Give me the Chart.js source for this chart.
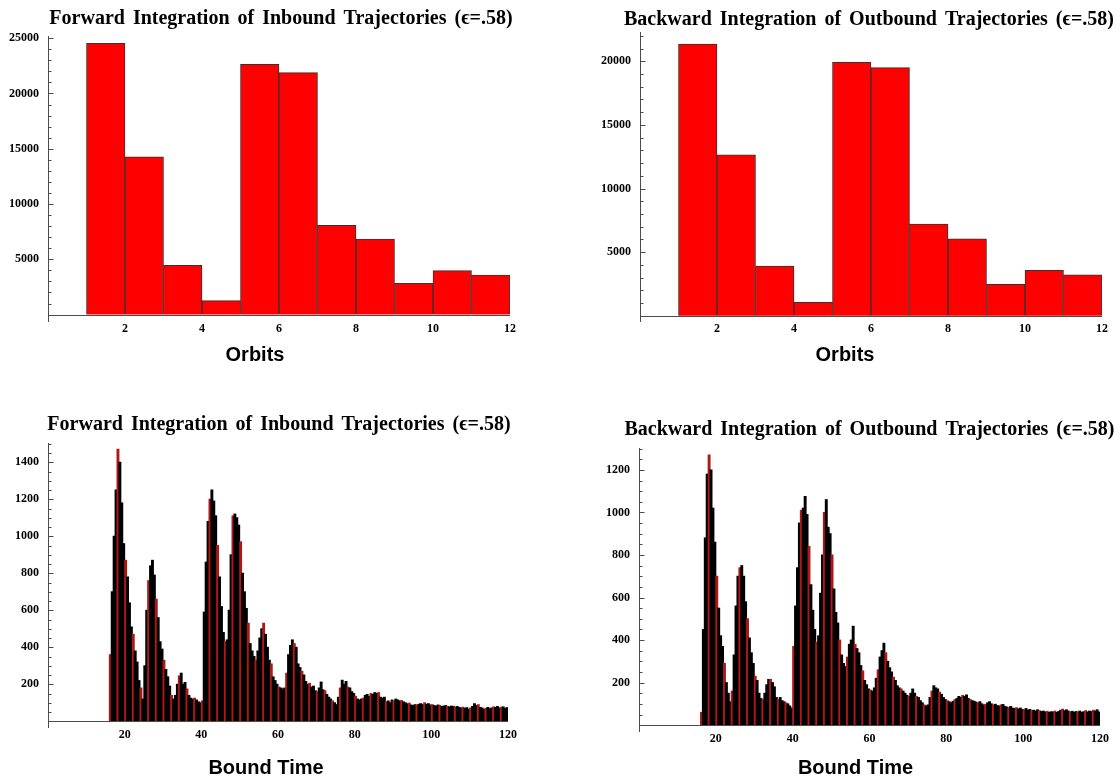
<!DOCTYPE html>
<html>
<head>
<meta charset="utf-8">
<title>Orbits and bound time histograms</title>
<script src="https://cdn.jsdelivr.net/npm/chart.js@4.4.1/dist/chart.umd.min.js"></script>
<style>
  html, body { margin: 0; padding: 0; background: #fff; }
  #page { position: relative; width: 1120px; height: 779px; overflow: hidden; }
  canvas { position: absolute; }
</style>
</head>
<body>
<div id="page">
  <canvas id="orbitsFwd" width="560" height="380" style="left:0;top:0"></canvas>
  <canvas id="orbitsBwd" width="620" height="380" style="left:540px;top:0"></canvas>
  <canvas id="boundFwd" width="560" height="399" style="left:0;top:380px"></canvas>
  <canvas id="boundBwd" width="620" height="399" style="left:540px;top:380px"></canvas>
</div>
<script>
// orbit histograms: bins [1,2), [2,3) ... [11,12)
const orbitBins = [1, 2, 3, 4, 5, 6, 7, 8, 9, 10, 11];
const orbitCountsFwd = [24540, 14280, 4460, 1260, 22640, 21880, 8080, 6840, 2830, 3970, 3580];
const orbitCountsBwd = [21350, 12650, 3900, 1060, 19920, 19500, 7200, 6040, 2480, 3580, 3210];
const orbitXTicks = [2, 4, 6, 8, 10, 12];
const orbitYTicksFwd = [5000, 10000, 15000, 20000, 25000];
const orbitYTicksBwd = [5000, 10000, 15000, 20000];

// bound time histograms: bins of 0.5 starting at 16
const boundTimeStart = 16;
const boundTimeBinWidth = 0.5;
const boundTimeFwd = [
  360, 700, 1000, 1250, 1470, 1400, 1180, 960, 870, 780, 640, 510, 470, 380, 320, 220, 180, 120, // 16.0
  300, 600, 760, 840, 870, 790, 660, 560, 430, 390, 330, 280, 240, 190, 140, 120, // 25.0
  140, 200, 245, 260, 200, 210, 175, 140, 125, 120, 125, 115, 105, 100, // 33.0
  110, 590, 860, 1080, 1200, 1250, 1190, 1110, 950, 780, 620, 480, 430, 440, // 40.0
  600, 900, 1110, 1120, 1100, 1060, 970, 800, 700, 610, // 47.0
  530, 420, 380, 350, 330, 380, 450, 500, 530, 470, // 52.0
  400, 330, 310, 240, 220, 200, 185, 180, 175, 180, // 57.0
  260, 360, 410, 440, 420, 400, 310, 290, // 62.0
  270, 250, 215, 200, 205, 185, 190, 165, 160, 180, // 66.0
  212, 170, 165, 145, 130, 120, 110, 100, 90, 130, // 71.0
  180, 222, 200, 215, 185, 180, 160, 150, 135, 120, // 76.0
  115, 120, 125, 140, 145, 135, 150, 145, 155, 150, // 81.0
  155, 130, 125, 130, 105, 110, 100, 115, 110, 120, // 86.0
  115, 110, 112, 105, 100, 95, 98, 88, 85, 90, // 91.0
  88, 92, 95, 90, 100, 92, 95, 88, 90, 85, // 96.0
  82, 88, 85, 80, 82, 85, 80, 78, 82, 80, // 101.0
  76, 80, 75, 72, 76, 70, 74, 65, 72, 80, // 106.0
  95, 85, 90, 75, 72, 65, 70, 75, 68, 72, // 111.0
  78, 75, 80, 72, 76, 78, 70, 74 // 116.0
];
const boundTimeBwd = [
  60, 450, 880, 1180, 1270, 1200, 1020, 860, 700, 550, 420, 370, 290, 200, 150, 110, // 16.0
  160, 330, 560, 700, 740, 750, 700, 580, 500, 410, 340, 290, 230, 210, 150, 125, // 24.0
  120, 150, 190, 215, 215, 200, 180, 130, 120, 130, 115, 110, 105, 100, 90, 80, // 32.0
  370, 560, 740, 950, 1010, 1020, 1075, 990, 840, 660, 540, 450, 390, // 40.0
  420, 620, 800, 1000, 1060, 930, 900, 800, 640, 530, // 46.5
  480, 400, 330, 290, 275, 320, 380, 400, 465, 380, // 51.5
  360, 340, 280, 255, 210, 190, 170, 165, 160, 175, // 56.5
  220, 260, 320, 350, 385, 340, 300, 270, // 61.5
  250, 225, 210, 185, 175, 170, 160, 150, 140, 135, // 65.5
  150, 170, 150, 135, 130, 115, 105, 95, 90, 95, // 70.5
  130, 160, 185, 175, 170, 155, 145, 130, 120, 115, // 75.5
  110, 105, 112, 120, 125, 135, 130, 140, 135, 142, // 80.5
  125, 120, 115, 112, 108, 105, 110, 100, 95, 98, // 85.5
  105, 110, 100, 95, 98, 92, 90, 95, 97, 88, // 90.5
  85, 82, 88, 80, 78, 82, 76, 80, 74, 72, // 95.5
  78, 70, 74, 68, 70, 66, 72, 68, 64, 66, // 100.5
  62, 65, 60, 63, 62, 66, 60, 64, 70, 75, // 105.5
  68, 72, 66, 62, 65, 60, 64, 62, 66, 60, // 110.5
  63, 68, 62, 66, 64, 70, 66, 72, 62 // 115.5
];
const boundXTicks = [20, 40, 60, 80, 100, 120];
const boundYTicksFwd = [200, 400, 600, 800, 1000, 1200, 1400];
const boundYTicksBwd = [200, 400, 600, 800, 1000, 1200];

const titleFwd = "Forward Integration of Inbound Trajectories (\u03f5=.58)";
const titleBwd = "Backward Integration of Outbound Trajectories (\u03f5=.58)";

Chart.defaults.color = "#000";
const tickFont = { family: "Liberation Serif", size: 12, weight: "bold" };

// axes crossing at the origin with inward ticks, plus the axis label, Mathematica style
const mmaAxes = {
    id: "mmaAxes",
    beforeDraw(chart) {
        chart.ctx.wordSpacing = "3px";
    },
    afterDraw(chart, args, opts) {
        const { ctx, chartArea, scales: { x, y } } = chart;
        const x0 = Math.round(x.getPixelForValue(0)) + 0.5;
        const y0 = Math.round(y.getPixelForValue(0)) + 0.5;
        const majors = y.ticks.map(t => t.value);
        ctx.save();
        ctx.wordSpacing = "0px";
        ctx.strokeStyle = "#4a4a4a";
        ctx.lineWidth = 1;
        ctx.beginPath();
        ctx.moveTo(x0, chartArea.top);
        ctx.lineTo(x0, chartArea.bottom);
        ctx.moveTo(chartArea.left, y0);
        ctx.lineTo(chartArea.right, y0);
        for (let v = opts.minorStep; v <= y.max; v += opts.minorStep) {
            const py = Math.round(y.getPixelForValue(v)) + 0.5;
            const len = majors.includes(v) ? 5 : 3;
            ctx.moveTo(x0, py);
            ctx.lineTo(x0 + len, py);
        }
        ctx.stroke();

        ctx.fillStyle = "#000";
        ctx.font = "bold 20px 'Liberation Sans', Arial, sans-serif";
        ctx.textAlign = "center";
        ctx.textBaseline = "middle";
        ctx.fillText(opts.label, (chartArea.left + chartArea.right) / 2 + opts.labelShift, chartArea.bottom + opts.labelDrop);
        ctx.restore();
    },
};

function drawHistogram(canvasId, cfg) {
    const ctx = document.getElementById(canvasId).getContext("2d");
    return new Chart(ctx, {
        type: "bar",
        data: {
            datasets: [{
                data: cfg.points,
                backgroundColor: cfg.fill,
                borderColor: cfg.edge,
                borderWidth: cfg.edgeWidth,
                inflateAmount: cfg.inflate,
                barPercentage: 1,
                categoryPercentage: 1,
                grouped: false,
            }],
        },
        options: {
            responsive: false,
            animation: false,
            devicePixelRatio: 1,
            layout: { padding: { left: cfg.padLeft, right: cfg.padRight, top: 0, bottom: 0 } },
            plugins: {
                legend: { display: false },
                tooltip: { enabled: false },
                title: {
                    display: true,
                    text: cfg.title,
                    fullSize: true,
                    color: "#000",
                    font: { family: "Liberation Serif", size: 20, weight: "bold", lineHeight: 1 },
                    padding: cfg.titlePad,
                },
                mmaAxes: { minorStep: cfg.minorStep, label: cfg.axisTitle, labelShift: cfg.labelShift, labelDrop: cfg.labelDrop },
            },
            scales: {
                x: {
                    type: "linear",
                    min: 0,
                    max: cfg.xMax,
                    offset: false,
                    grid: { display: false, drawTicks: false },
                    border: { display: false },
                    ticks: { padding: 0, font: tickFont, callback: v => String(v) },
                    afterBuildTicks: s => { s.ticks = cfg.xTicks.map(v => ({ value: v })); },
                    afterFit: s => { s.height = cfg.xAxisHeight; },
                },
                y: {
                    type: "linear",
                    min: cfg.yMin,
                    max: cfg.yMax,
                    grid: { display: false, drawTicks: false },
                    border: { display: false },
                    ticks: { padding: 9, font: tickFont, callback: v => String(v) },
                    afterBuildTicks: s => { s.ticks = cfg.yTicks.map(v => ({ value: v })); },
                    afterFit: s => { s.width = cfg.yAxisWidth; },
                },
                // empty box on the right so the title can centre over the plot
                gap: {
                    type: "linear",
                    position: "right",
                    grid: { display: false, drawTicks: false },
                    border: { display: false },
                    ticks: { display: false },
                    afterFit: s => { s.width = cfg.gapRight; },
                },
            },
        },
        plugins: [mmaAxes],
    });
}

const orbitPoints = counts => orbitBins.map((b, i) => ({ x: b + 0.5, y: counts[i] }));
const boundPoints = counts => counts.map((c, i) => ({ x: boundTimeStart + (i + 0.5) * boundTimeBinWidth, y: c }));
const stripe = c => (c.dataIndex % 4 === 0 ? "#b01818" : "#000000");

drawHistogram("orbitsFwd", {
    points: orbitPoints(orbitCountsFwd), fill: "#ff0000", edge: "#333333", edgeWidth: 1, inflate: "auto",
    title: titleFwd, titlePad: { top: 9, bottom: 7 },
    axisTitle: "Orbits", labelShift: -24, labelDrop: 33,
    padLeft: 2, padRight: 0, yAxisWidth: 46, gapRight: 50, xAxisHeight: 58,
    xMax: 12, xTicks: orbitXTicks, yMin: -670, yMax: 25200, yTicks: orbitYTicksFwd, minorStep: 1000,
});

drawHistogram("orbitsBwd", {
    points: orbitPoints(orbitCountsBwd), fill: "#ff0000", edge: "#333333", edgeWidth: 1, inflate: "auto",
    title: titleBwd, titlePad: { top: 10, bottom: 2 },
    axisTitle: "Orbits", labelShift: -26, labelDrop: 33,
    padLeft: 50, padRight: 12, yAxisWidth: 50, gapRight: 46, xAxisHeight: 58,
    xMax: 12, xTicks: orbitXTicks, yMin: -490, yMax: 22300, yTicks: orbitYTicksBwd, minorStep: 1000,
});

drawHistogram("boundFwd", {
    points: boundPoints(boundTimeFwd), fill: stripe, edge: "#000", edgeWidth: 0, inflate: 0.5,
    title: titleFwd, titlePad: { top: 35, bottom: 8 },
    axisTitle: "Bound Time", labelShift: -12, labelDrop: 40,
    padLeft: 0, padRight: 2, yAxisWidth: 48, gapRight: 50, xAxisHeight: 51,
    xMax: 120, xTicks: boundXTicks, yMin: -36, yMax: 1504, yTicks: boundYTicksFwd, minorStep: 50,
});

drawHistogram("boundBwd", {
    points: boundPoints(boundTimeBwd), fill: stripe, edge: "#000", edgeWidth: 0, inflate: 0.5,
    title: titleBwd, titlePad: { top: 40, bottom: 8 },
    axisTitle: "Bound Time", labelShift: -14, labelDrop: 36,
    padLeft: 50, padRight: 11, yAxisWidth: 49, gapRight: 49, xAxisHeight: 47,
    xMax: 120, xTicks: boundXTicks, yMin: -32, yMax: 1303, yTicks: boundYTicksBwd, minorStep: 50,
});
</script>
</body>
</html>
